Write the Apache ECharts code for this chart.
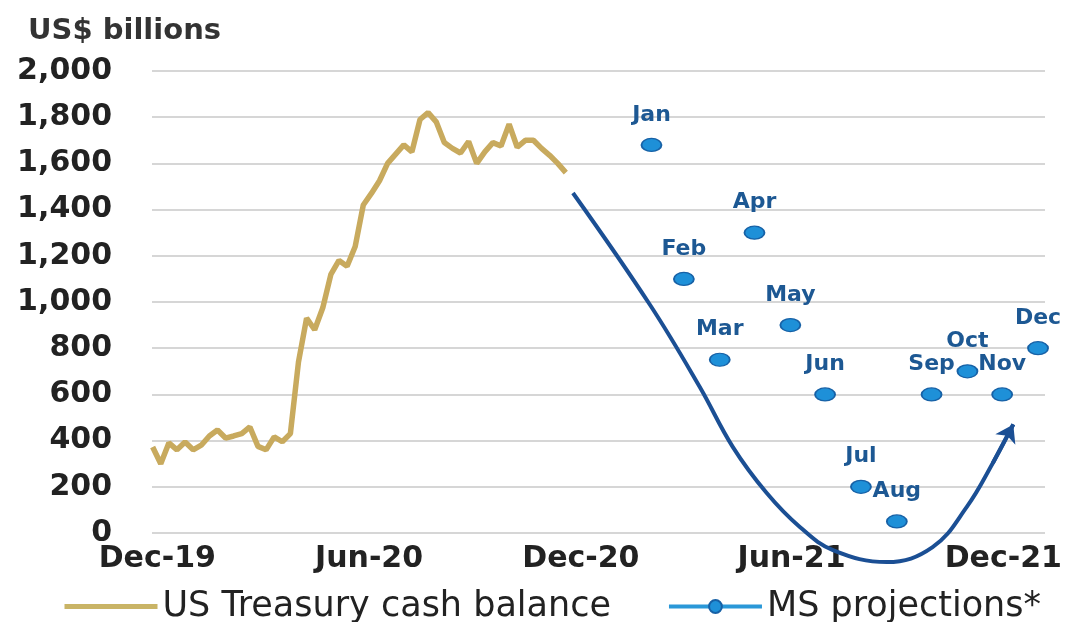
<!DOCTYPE html>
<html><head><meta charset="utf-8">
<script src="https://cdn.jsdelivr.net/npm/echarts@6/dist/echarts.min.js"></script>
<style>html,body{margin:0;padding:0;background:#fff}#c{width:1091px;height:622px}</style>
</head><body><div id="c"></div>
<script>
// ---- data ----
const originDate = '2019-12-01';
const xTickDates = ['2019-12-01','2020-06-01','2020-12-01','2021-06-01','2021-12-01'];
const xTickLabels = ['Dec-19','Jun-20','Dec-20','Jun-21','Dec-21'];
const cashStartDate = '2019-11-27'; // weekly observations
const cashBalance = [372,300,390,360,394,360,380,420,446,411,420,430,459,375,360,416,
  395,430,740,930,880,975,1120,1180,1155,1240,1420,1470,1525,1600,1640,1680,1650,1790,
  1820,1780,1690,1665,1645,1695,1600,1650,1690,1675,1770,1670,1700,1700,1665,1635,1600,1560];
const projMonths = ['Jan','Feb','Mar','Apr','May','Jun','Jul','Aug','Sep','Oct','Nov','Dec'];
const projDates = ['2021-01-31','2021-02-28','2021-03-31','2021-04-30','2021-05-31','2021-06-30',
  '2021-07-31','2021-08-31','2021-09-30','2021-10-31','2021-11-30','2021-12-31'];
const projValues = [1680,1100,750,1300,900,600,200,50,600,700,600,800];
// hand-drawn trend arrow (months since Dec-19, US$ bn)
const arrowMonths = [11.80,13.99,15.40,16.34,17.30,18.24,19.18,20.71,22.01,22.98,23.72,24.30];
const arrowValues = [1472,987,632,372,173,26,-74,-126,-61,113,303,470];

// ---- helpers ----
const DAY = 86400000;
function toMonths(d){ return (Date.parse(d) - Date.parse(originDate)) / DAY / 30.4375; }
const tickPos = xTickDates.map(toMonths);
const cashStartM = toMonths(cashStartDate);
const cashData = cashBalance.map((v,i)=>[cashStartM + i*7/30.4375, v]);
const projData = projValues.map((v,i)=>[toMonths(projDates[i]), v]);
const arrowData = arrowValues.map((v,i)=>[arrowMonths[i], v]);
const nA = arrowMonths.length;
const arrowHeadSeg = [{coords:[[arrowMonths[nA-2], arrowValues[nA-2]],[arrowMonths[nA-1], arrowValues[nA-1]]]}];

const FONT = 'DejaVu Sans';
const NAVY = '#1b4f94';
const chart = echarts.init(document.getElementById('c'));
chart.setOption({
  animation:false,
  backgroundColor:'#fff',
  title:{text:'US$ billions', left:28, top:17, padding:0,
    textStyle:{fontFamily:FONT, fontWeight:'bold', fontSize:29, color:'#333'}},
  legend:{left:57, top:584, itemWidth:93, itemHeight:16, itemGap:56,
    textStyle:{fontFamily:FONT, fontSize:35, color:'#222'},
    data:[{name:'US Treasury cash balance', itemStyle:{opacity:0}, lineStyle:{width:5, color:'#c9b466'}},
          {name:'MS projections*', lineStyle:{width:4, color:'#2a98d8', opacity:1}}]},
  grid:{left:152, right:46, top:71, bottom:89},
  xAxis:{type:'value', min:-0.15, max:25.2,
    splitLine:{show:false}, axisLine:{show:false}, axisTick:{show:false},
    axisLabel:{customValues:tickPos, margin:11,
      formatter:function(v){ for(let i=0;i<tickPos.length;i++){ if(Math.abs(tickPos[i]-v)<1e-6) return xTickLabels[i]; } return ''; },
      fontFamily:FONT, fontWeight:'bold', fontSize:30, color:'#222'}},
  yAxis:{type:'value', min:0, max:2000, interval:200,
    axisLine:{show:false}, axisTick:{show:false},
    axisLabel:{margin:40, formatter:function(v){return v.toLocaleString('en-US');},
      fontFamily:FONT, fontWeight:'bold', fontSize:30, color:'#222'},
    splitLine:{lineStyle:{color:'#d6d6d6', width:2}}},
  series:[
    {name:'US Treasury cash balance', type:'line', data:cashData, symbol:'none',
      lineStyle:{color:'#c8aa5e', width:5.5}, itemStyle:{color:'#c8aa5e'}, z:3},
    {name:'trend', type:'line', data:arrowData, symbol:'none', smooth:0.4, clip:false,
      lineStyle:{color:NAVY, width:4}, z:2, silent:true},
    {name:'trendHead', type:'lines', coordinateSystem:'cartesian2d', data:arrowHeadSeg,
      symbol:['none','arrow'], symbolSize:17, lineStyle:{color:NAVY, width:4, opacity:1},
      z:2, silent:true},
    {name:'MS projections*', type:'line', data:projData, symbol:'circle', symbolSize:[20,13],
      showSymbol:true, lineStyle:{opacity:0, width:4, color:'#2a98d8'},
      itemStyle:{color:'#1e90d8', borderColor:'#1761a6', borderWidth:1.5}, z:4,
      label:{show:true, position:'top', distance:12,
        formatter:function(p){return projMonths[p.dataIndex];},
        fontFamily:FONT, fontWeight:'bold', fontSize:22, color:'#1d5893'}}
  ]
});
</script></body></html>
